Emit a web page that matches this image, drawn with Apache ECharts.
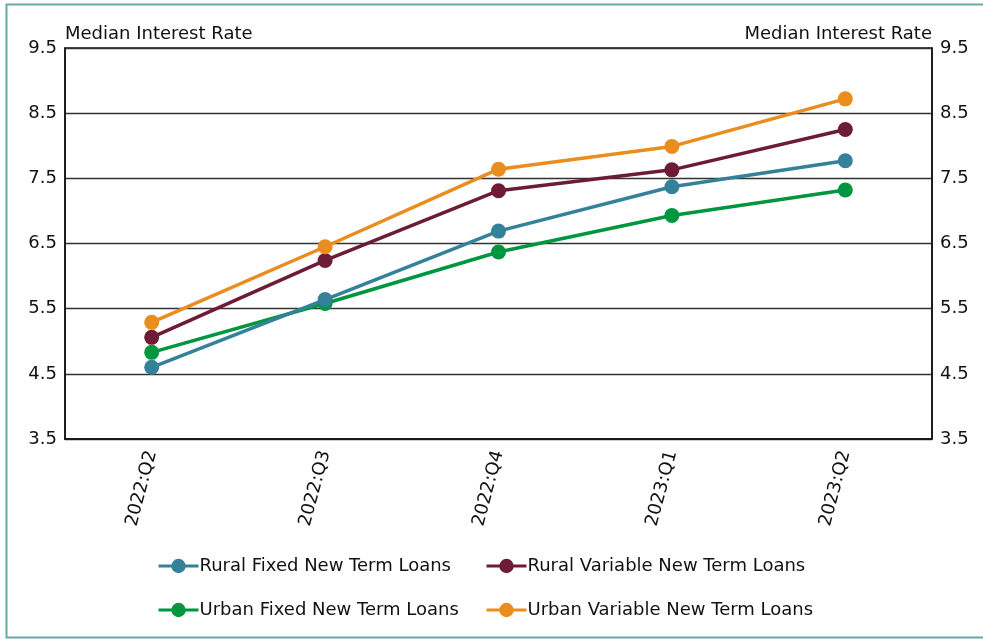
<!DOCTYPE html>
<html>
<head>
<meta charset="utf-8">
<script src="https://cdn.jsdelivr.net/npm/echarts@6/dist/echarts.min.js"></script>
<style>
  html, body { margin: 0; padding: 0; background: #fff; }
  #chart { width: 983px; height: 639px; }
</style>
</head>
<body>
<div id="chart"></div>
<script>
// Quarterly median interest rates on new term loans (percent)
const quarters = ['2022:Q2', '2022:Q3', '2022:Q4', '2023:Q1', '2023:Q2'];
const ruralFixed    = [4.60, 5.64, 6.69, 7.37, 7.77];
const ruralVariable = [5.06, 6.24, 7.31, 7.63, 8.25];
const urbanFixed    = [4.83, 5.58, 6.37, 6.93, 7.32];
const urbanVariable = [5.29, 6.45, 7.64, 7.99, 8.72];
const seriesNames = [
  'Rural Fixed New Term Loans',
  'Rural Variable New Term Loans',
  'Urban Fixed New Term Loans',
  'Urban Variable New Term Loans'
];
const seriesColors = ['#33829a', '#6e1c35', '#00953f', '#ea8c1e'];
const seriesData = [ruralFixed, ruralVariable, urbanFixed, urbanVariable];

const FONT = 'DejaVu Sans';
const chart = echarts.init(document.getElementById('chart'), null, { renderer: 'canvas' });

const yAxisBase = (pos) => ({
  type: 'value',
  position: pos,
  min: 3.5,
  max: 9.5,
  interval: 1,
  name: 'Median Interest Rate',
  nameLocation: 'end',
  nameGap: 5,
  nameTextStyle: {
    fontFamily: FONT, fontSize: 18, color: '#111',
    align: pos === 'left' ? 'left' : 'right'
  },
  axisLine: { show: true, lineStyle: { color: '#111', width: 1.5 } },
  axisTick: { show: false },
  axisLabel: {
    fontFamily: FONT, fontSize: 18, color: '#111', margin: 8,
    formatter: (v) => v.toFixed(1)
  },
  splitLine: { show: pos === 'left', lineStyle: { color: '#333', width: 1.3 } }
});

chart.setOption({
  animation: false,
  backgroundColor: '#fff',
  graphic: [{
    type: 'rect',
    shape: { x: 6.5, y: 4.5, width: 990, height: 633 },
    style: { fill: 'none', stroke: '#6aa8a6', lineWidth: 2 },
    silent: true
  }],
  grid: {
    left: 65, right: 51, top: 48, bottom: 200,
    show: true, borderColor: '#111', borderWidth: 1.5
  },
  legend: [0, 1, 2, 3].map((i) => ({
    data: [seriesNames[i]],
    left: [152, 480, 152, 480][i],
    top: [552, 552, 596, 596][i],
    itemWidth: 40,
    itemHeight: 18,
    itemGap: 4,
    lineStyle: { width: 3 },
    textStyle: { fontFamily: FONT, fontSize: 18, color: '#111', padding: [0, 0, 0, -4] }
  })),
  xAxis: {
    type: 'category',
    data: quarters,
    boundaryGap: true,
    axisLine: { show: true, lineStyle: { color: '#111', width: 1.5 } },
    axisTick: { show: false },
    axisLabel: {
      rotate: 75,
      fontFamily: FONT, fontSize: 18, color: '#111', margin: 12
    },
    splitLine: { show: false }
  },
  yAxis: [yAxisBase('left'), yAxisBase('right')],
  series: seriesData.map((d, i) => ({
    name: seriesNames[i],
    type: 'line',
    data: d,
    yAxisIndex: 0,
    symbol: 'circle',
    symbolSize: 15,
    color: seriesColors[i],
    lineStyle: { width: 3.5, color: seriesColors[i] },
    itemStyle: { color: seriesColors[i] },
    z: [3, 4, 2, 5][i]
  }))
});
</script>
</body>
</html>
